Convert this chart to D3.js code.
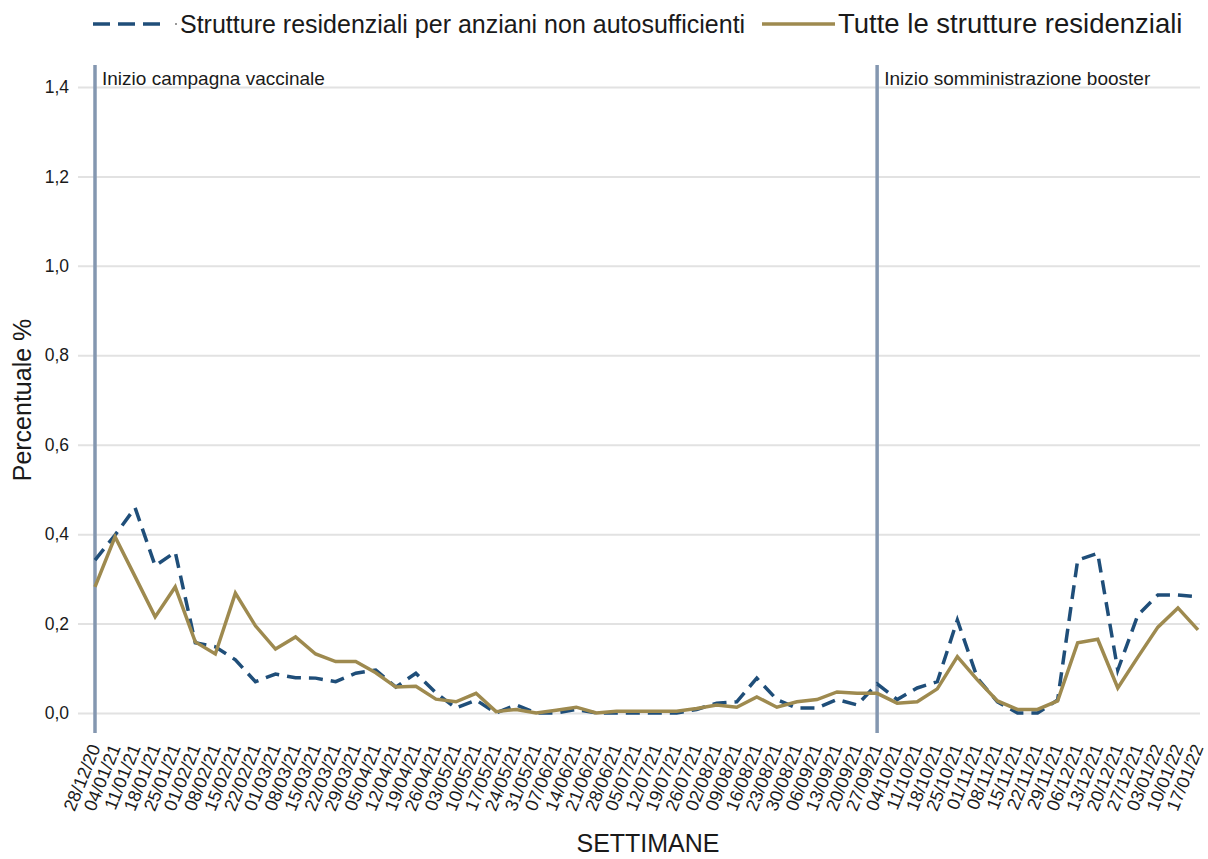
<!DOCTYPE html>
<html>
<head>
<meta charset="utf-8">
<script src="https://cdn.jsdelivr.net/npm/d3@7"></script>
<style>
  body { margin: 0; background: #ffffff; }
  text { font-family: "Liberation Sans", Arial, sans-serif; fill: #1a1a1a; }
</style>
</head>
<body>
<div id="chart"></div>
<script>
// weeks on the x axis
var weeks = ["28/12/20","04/01/21","11/01/21","18/01/21","25/01/21","01/02/21","08/02/21","15/02/21",
  "22/02/21","01/03/21","08/03/21","15/03/21","22/03/21","29/03/21","05/04/21","12/04/21","19/04/21",
  "26/04/21","03/05/21","10/05/21","17/05/21","24/05/21","31/05/21","07/06/21","14/06/21","21/06/21",
  "28/06/21","05/07/21","12/07/21","19/07/21","26/07/21","02/08/21","09/08/21","16/08/21","23/08/21",
  "30/08/21","06/09/21","13/09/21","20/09/21","27/09/21","04/10/21","11/10/21","18/10/21","25/10/21",
  "01/11/21","08/11/21","15/11/21","22/11/21","29/11/21","06/12/21","13/12/21","20/12/21","27/12/21",
  "03/01/22","10/01/22","17/01/22"];

// Strutture residenziali per anziani non autosufficienti (%)
var nonAutosufficienti = [0.342,0.398,0.459,0.329,0.360,0.157,0.148,0.119,0.070,0.087,0.079,0.078,
  0.070,0.089,0.096,0.058,0.089,0.045,0.011,0.029,0.000,0.018,0.000,0.000,0.008,0.000,0.000,0.000,
  0.000,0.000,0.008,0.022,0.025,0.078,0.030,0.011,0.011,0.030,0.018,0.065,0.030,0.056,0.070,0.208,
  0.078,0.025,0.000,0.000,0.029,0.342,0.357,0.096,0.219,0.264,0.264,0.260];

// Tutte le strutture residenziali (%)
var tutteStrutture = [0.282,0.394,0.305,0.215,0.282,0.159,0.132,0.268,0.195,0.143,0.170,0.132,
  0.115,0.115,0.090,0.058,0.060,0.031,0.025,0.044,0.003,0.008,0.000,0.006,0.013,0.000,0.004,0.004,
  0.004,0.004,0.010,0.018,0.013,0.036,0.013,0.025,0.030,0.047,0.044,0.044,0.022,0.025,0.054,0.126,
  0.074,0.027,0.008,0.008,0.027,0.157,0.165,0.056,0.125,0.192,0.235,0.186];

var yTicks = [0, 0.2, 0.4, 0.6, 0.8, 1.0, 1.2, 1.4];

// vertical reference lines
var markers = [
  { week: "28/12/20", label: "Inizio campagna vaccinale" },
  { week: "27/09/21", label: "Inizio somministrazione booster" }
];

var svgWidth = 1208;
var svgHeight = 859;

var svg = d3.select("#chart")
  .append("svg")
  .attr("width", svgWidth)
  .attr("height", svgHeight);

var xScale = d3.scalePoint()
  .domain(weeks)
  .range([95, 1198]);

var yScale = d3.scaleLinear()
  .domain([0, 1.4])
  .range([713, 87]);

var itFormat = d3.formatLocale({ decimal: ",", thousands: ".", grouping: [3], currency: ["", "€"] }).format(".1f");

// horizontal grid + y labels
var yAxis = d3.axisLeft(yScale)
  .tickValues(yTicks)
  .tickSize(-(1200 - 78))
  .tickPadding(9)
  .tickFormat(itFormat);

var yAxisG = svg.append("g")
  .attr("transform", "translate(78,0)")
  .call(yAxis);
yAxisG.select(".domain").remove();
yAxisG.selectAll(".tick line")
  .attr("stroke", "#e2e2e2")
  .attr("stroke-width", 2);
yAxisG.selectAll(".tick text")
  .attr("font-size", 17.5)
  .attr("fill", "#1a1a1a")
  .attr("font-family", "'Liberation Sans', Arial, sans-serif");

// x axis labels (rotated)
var xAxis = d3.axisBottom(xScale).tickSize(0).tickPadding(0);
var xAxisG = svg.append("g")
  .call(xAxis);
xAxisG.select(".domain").remove();
xAxisG.selectAll(".tick")
  .attr("transform", d => "translate(" + xScale(d) + ",745)");
xAxisG.selectAll(".tick text")
  .attr("y", 0)
  .attr("dy", "0.35em")
  .attr("transform", "rotate(-68)")
  .attr("text-anchor", "end")
  .attr("font-size", 18)
  .attr("fill", "#1a1a1a")
  .attr("font-family", "'Liberation Sans', Arial, sans-serif");

// marker lines
svg.selectAll(".marker")
  .data(markers)
  .enter()
  .append("line")
  .attr("x1", d => xScale(d.week))
  .attr("x2", d => xScale(d.week))
  .attr("y1", 65)
  .attr("y2", 733)
  .attr("stroke", "#8497b0")
  .attr("stroke-width", 3.5);

svg.selectAll(".marker-label")
  .data(markers)
  .enter()
  .append("text")
  .attr("x", d => xScale(d.week) + 7)
  .attr("y", 85)
  .attr("font-size", 19)
  .text(d => d.label);

var line = d3.line()
  .x((d, i) => xScale(weeks[i]))
  .y(d => yScale(d));

svg.append("path")
  .datum(nonAutosufficienti)
  .attr("fill", "none")
  .attr("stroke", "#1f4e79")
  .attr("stroke-width", 3.5)
  .attr("stroke-dasharray", "14,8")
  .attr("d", line);

svg.append("path")
  .datum(tutteStrutture)
  .attr("fill", "none")
  .attr("stroke", "#9e8a4f")
  .attr("stroke-width", 3.5)
  .attr("d", line);

// legend
svg.append("line")
  .attr("x1", 93).attr("x2", 168)
  .attr("y1", 24).attr("y2", 24)
  .attr("stroke", "#1f4e79")
  .attr("stroke-width", 3.5)
  .attr("stroke-dasharray", "17,8");
svg.append("circle")
  .attr("cx", 176).attr("cy", 24).attr("r", 1)
  .attr("fill", "#777");
svg.append("text")
  .attr("x", 180).attr("y", 33)
  .attr("font-size", 25)
  .text("Strutture residenziali per anziani non autosufficienti");

svg.append("line")
  .attr("x1", 762).attr("x2", 835)
  .attr("y1", 24).attr("y2", 24)
  .attr("stroke", "#9e8a4f")
  .attr("stroke-width", 3.5);
svg.append("text")
  .attr("x", 838).attr("y", 33)
  .attr("font-size", 27.5)
  .text("Tutte le strutture residenziali");

// axis titles
svg.append("text")
  .attr("transform", "translate(31,400) rotate(-90)")
  .attr("text-anchor", "middle")
  .attr("font-size", 25)
  .text("Percentuale %");

svg.append("text")
  .attr("x", 648)
  .attr("y", 852)
  .attr("text-anchor", "middle")
  .attr("font-size", 25)
  .text("SETTIMANE");
</script>
</body>
</html>
